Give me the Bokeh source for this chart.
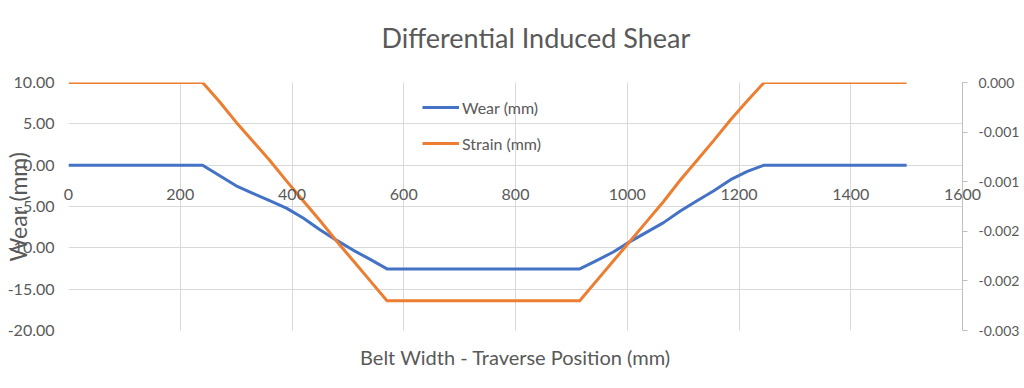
from bokeh.plotting import figure
from bokeh.models import (Range1d, LinearAxis, FixedTicker, PrintfTickFormatter,
                          Title, Legend, LegendItem)
from bokeh.embed import file_html
from bokeh.resources import INLINE

# ---- data ----
position = [0, 60, 120, 180, 240,
            270, 300, 330, 360, 390, 420, 450, 480, 510, 540, 570,
            630, 690, 750, 810, 870, 915,
            945, 975, 1005, 1035, 1065, 1095, 1125, 1155, 1185, 1215, 1245,
            1305, 1365, 1425, 1500]
wear = [0, 0, 0, 0, 0,
        -1.25, -2.5, -3.4, -4.3, -5.2, -6.4, -7.8, -9.1, -10.3, -11.4, -12.55,
        -12.55, -12.55, -12.55, -12.55, -12.55, -12.55,
        -11.55, -10.5, -9.25, -8.1, -6.95, -5.55, -4.3, -3.1, -1.75, -0.75, 0,
        0, 0, 0, 0]
strain = [0, 0, 0, 0, 0,
          -0.00023, -0.00048, -0.00071, -0.00094, -0.00119, -0.00143, -0.00167, -0.00192, -0.00216, -0.00240, -0.00264,
          -0.00264, -0.00264, -0.00264, -0.00264, -0.00264, -0.00264,
          -0.00240, -0.00216, -0.00192, -0.00168, -0.00144, -0.00118, -0.00094, -0.00070, -0.00045, -0.00022, 0,
          0, 0, 0, 0]

x_ticks = [0, 200, 400, 600, 800, 1000, 1200, 1400, 1600]
wear_ticks = [10, 5, 0, -5, -10, -15, -20]
strain_ticks = [0, -0.0006, -0.0012, -0.0018, -0.0024, -0.003]

FONT = "Lato"
TXT = "#595959"
GRID = "#d9d9d9"
AXIS = "#bfbfbf"
BLUE = "#4472C4"
ORANGE = "#ED7D31"

p = figure(frame_width=894, frame_height=248,
           x_range=Range1d(0, 1600), y_range=Range1d(-20, 10),
           output_backend="svg", toolbar_location=None,
           min_border_left=60, min_border_right=54,
           min_border_top=82, min_border_bottom=44)
p.outline_line_color = None
p.background_fill_color = "white"
p.border_fill_color = "white"

# spacer between frame and title, then the title itself
p.add_layout(Title(text=" ", text_font_size="10px", standoff=16), "above")
p.add_layout(Title(text="Differential Induced Shear", align="left", offset=313,
                   text_font=FONT, text_font_size="27px", text_font_style="normal",
                   text_color=TXT, standoff=0), "above")

p.extra_y_ranges = {"strain": Range1d(-0.003, 0)}

# x axis: labels pulled up so they sit just under the wear = 0 line
xa = p.xaxis[0]
xa.ticker = FixedTicker(ticks=x_ticks)
xa.axis_line_color = None
xa.major_tick_out = 0
xa.major_tick_in = 0
xa.minor_tick_out = 0
xa.minor_tick_in = 0
xa.major_label_standoff = -142
xa.major_label_text_font = FONT
xa.major_label_text_font_size = "16px"
xa.major_label_text_color = TXT
xa.axis_label = "Belt Width - Traverse Position (mm)"
xa.axis_label_standoff = 142
xa.axis_label_text_font = FONT
xa.axis_label_text_font_size = "20px"
xa.axis_label_text_font_style = "normal"
xa.axis_label_text_color = TXT

ya = p.yaxis[0]
ya.ticker = FixedTicker(ticks=wear_ticks)
ya.formatter = PrintfTickFormatter(format="%.2f")
ya.axis_line_color = None
ya.major_tick_out = 0
ya.major_tick_in = 0
ya.minor_tick_out = 0
ya.minor_tick_in = 0
ya.major_label_standoff = 14
ya.major_label_text_font = FONT
ya.major_label_text_font_size = "16px"
ya.major_label_text_color = TXT
ya.axis_label = "Wear (mm)"
ya.axis_label_standoff = -27
ya.axis_label_text_font = FONT
ya.axis_label_text_font_size = "23px"
ya.axis_label_text_font_style = "normal"
ya.axis_label_text_color = TXT

ra = LinearAxis(y_range_name="strain",
                ticker=FixedTicker(ticks=strain_ticks),
                formatter=PrintfTickFormatter(format="%.3f"))
ra.axis_line_color = AXIS
ra.major_tick_line_color = AXIS
ra.major_tick_out = 5
ra.major_tick_in = 0
ra.minor_tick_out = 0
ra.minor_tick_in = 0
ra.major_label_standoff = 11
ra.major_label_text_font = FONT
ra.major_label_text_font_size = "14px"
ra.major_label_text_color = TXT
p.add_layout(ra, "right")

p.xgrid.ticker = FixedTicker(ticks=x_ticks)
p.ygrid.ticker = FixedTicker(ticks=wear_ticks)
p.xgrid.grid_line_color = GRID
p.ygrid.grid_line_color = GRID

w = p.line(position, wear, line_color=BLUE, line_width=3, line_join="round")
s = p.line(position, strain, y_range_name="strain", line_color=ORANGE,
           line_width=3, line_join="round")

legend = Legend(items=[LegendItem(label="Wear (mm)", renderers=[w]),
                       LegendItem(label="Strain (mm)", renderers=[s])],
                location=(354, 177), padding=0, margin=0, spacing=16,
                glyph_width=37, glyph_height=20, label_height=20,
                label_standoff=3,
                label_text_font=FONT, label_text_font_size="16px",
                label_text_color=TXT,
                border_line_color=None, background_fill_alpha=0)
p.add_layout(legend)

open("out.html", "w").write(file_html(p, INLINE))
